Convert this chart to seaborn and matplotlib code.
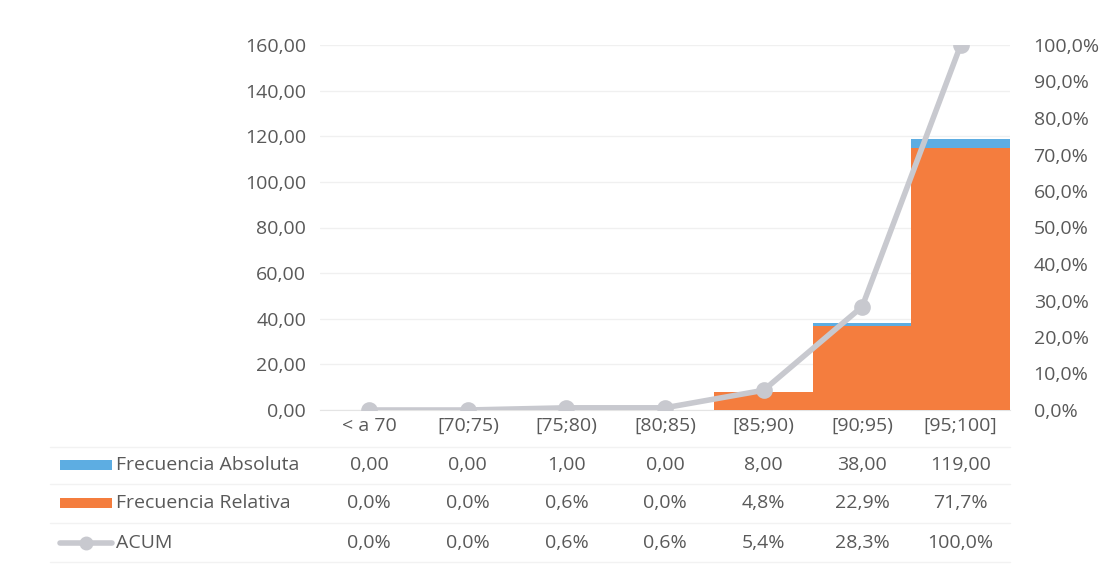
import matplotlib
matplotlib.use("Agg")
import numpy as np
import seaborn as sns
import matplotlib.pyplot as plt
from matplotlib.patches import Rectangle
from matplotlib.lines import Line2D
from matplotlib.ticker import FuncFormatter

# data
categories = ["< a 70", "[70;75)", "[75;80)", "[80;85)", "[85;90)", "[90;95)", "[95;100]"]
frec_abs = [0, 0, 1, 0, 8, 38, 119]
frec_rel = [0.0, 0.0, 0.006, 0.0, 0.048, 0.229, 0.717]
acum = [0.0, 0.0, 0.006, 0.006, 0.054, 0.283, 1.0]
row_labels = ["Frecuencia Absoluta", "Frecuencia Relativa", "ACUM"]

blue = "#5DADE2"
orange = "#F47D3E"
gray_line = "#C8C9CF"
txt = "#595959"
fs = 14

sns.set_style("white")
plt.rcParams['font.family'] = ['Open Sans', 'DejaVu Sans']

W, H = 1116, 569
fig = plt.figure(figsize=(W / 100, H / 100), dpi=100)
ax = fig.add_axes([320 / W, 1 - 410 / H, 690 / W, 365 / H])

sns.barplot(x=categories, y=frec_abs, color=blue, width=1.0, saturation=1,
            linewidth=0, ax=ax, zorder=2)
ax.set_ylim(0, 160)
ax.set_yticks(np.arange(0, 161, 20))
ax.yaxis.set_major_formatter(FuncFormatter(lambda v, p: f"{v:.2f}".replace(".", ",")))
ax.grid(axis="y", color="#F0F0F0", lw=1)
ax.set_axisbelow(True)

ax2 = ax.twinx()
sns.barplot(x=categories, y=frec_rel, color=orange, width=1.0, saturation=1,
            linewidth=0, ax=ax2)
sns.pointplot(x=categories, y=acum, color=gray_line, markers="o", markersize=9,
              linewidth=4, ax=ax2)
ax2.set_ylim(0, 1)
ax2.set_yticks(np.arange(0, 1.01, 0.1))
ax2.yaxis.set_major_formatter(FuncFormatter(lambda v, p: f"{v * 100:.1f}%".replace(".", ",")))
ax.set_xlim(-0.5, len(categories) - 0.5)

for a in (ax, ax2):
    a.set_xlabel("")
    a.set_ylabel("")
    for s in a.spines.values():
        s.set_visible(False)
    a.tick_params(length=0, labelsize=fs, colors=txt)
ax.spines["bottom"].set_visible(True)
ax.spines["bottom"].set_color("#E4E4E4")
ax.tick_params(axis="y", pad=10)
ax2.tick_params(axis="y", pad=17)
ax.tick_params(axis="x", pad=5)

# data table below the chart
rows_y = [465, 503, 543]
row_vals = [
    [f"{v:.2f}".replace(".", ",") for v in frec_abs],
    [f"{v * 100:.1f}%".replace(".", ",") for v in frec_rel],
    [f"{v * 100:.1f}%".replace(".", ",") for v in acum],
]
for yp, vals in zip(rows_y, row_vals):
    ya = (410 - yp) / 365
    for i, v in enumerate(vals):
        ax.text(i, ya, v, ha="center", va="center", fontsize=fs, color=txt,
                transform=ax.get_xaxis_transform(), clip_on=False)

for yp in [447, 484, 523, 562]:
    fig.add_artist(Line2D([50 / W, 1010 / W], [1 - yp / H] * 2, color="#F2F2F2", lw=1))

# legend keys in the table
keys = [blue, orange]
for yp, c in zip(rows_y[:2], keys):
    fig.add_artist(Rectangle((60 / W, 1 - (yp + 5) / H), 52 / W, 10 / H, color=c, lw=0))
fig.add_artist(Line2D([60 / W, 112 / W], [1 - rows_y[2] / H] * 2, color=gray_line, lw=4))
fig.add_artist(Line2D([86 / W], [1 - rows_y[2] / H], color=gray_line, marker="o", markersize=9))
for yp, lab in zip(rows_y, row_labels):
    fig.text(116 / W, 1 - yp / H, lab, ha="left", va="center", fontsize=fs, color=txt)

fig.savefig("out.png", dpi=100)
